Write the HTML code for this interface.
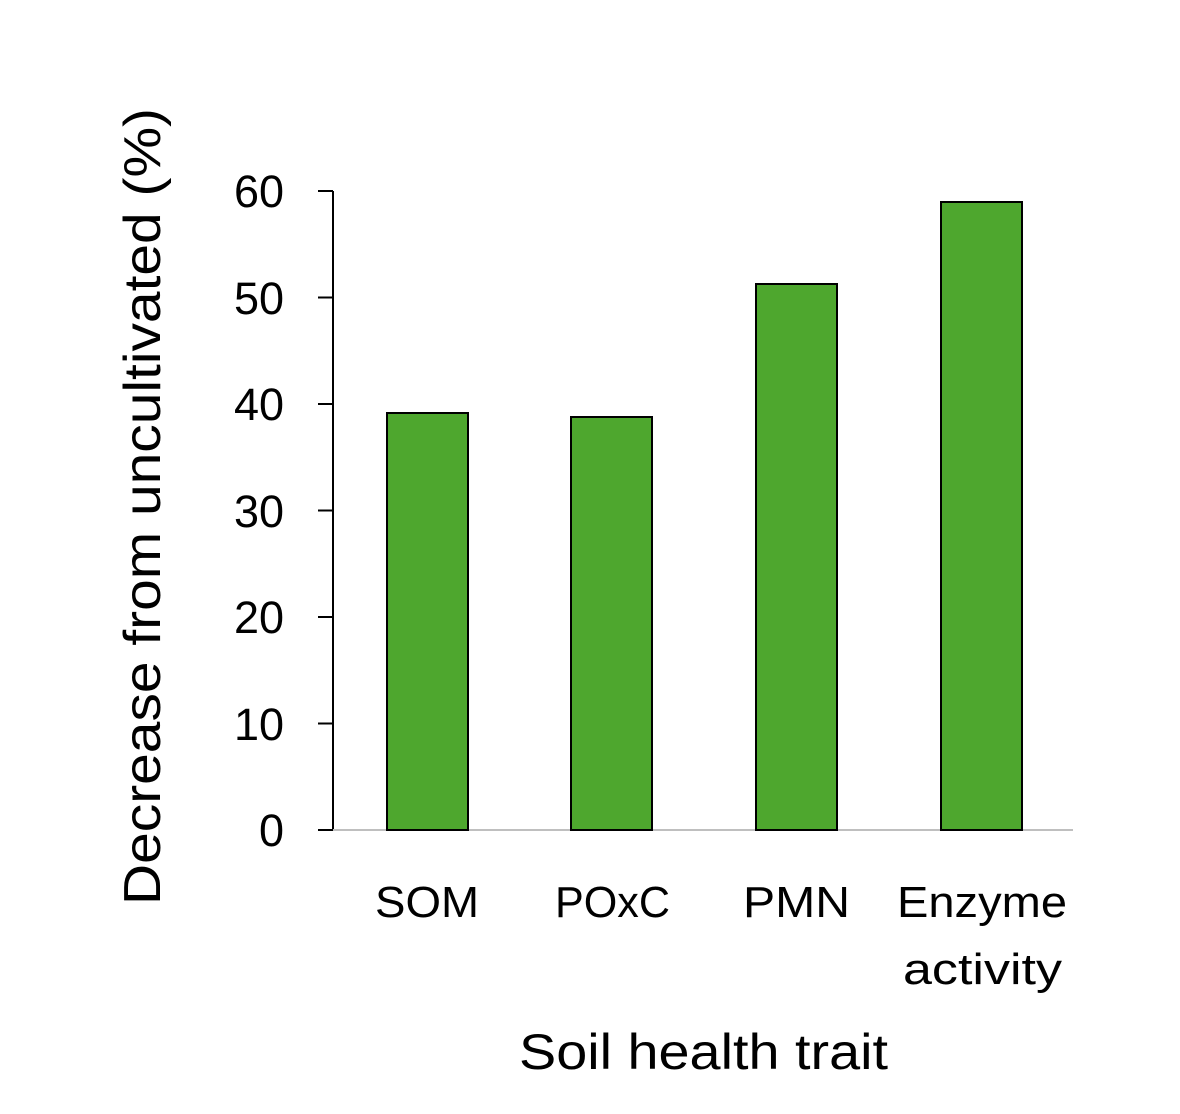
<!DOCTYPE html>
<html><head><meta charset="utf-8"><style>
html,body{margin:0;padding:0;background:#fff;}
svg{display:block;}
text{font-family:"Liberation Sans",Arial,sans-serif;fill:#000;}
</style></head><body>
<svg width="1180" height="1114" viewBox="0 0 1180 1114" xmlns="http://www.w3.org/2000/svg">
<rect width="1180" height="1114" fill="#fff"/>
<g stroke="#000" stroke-width="2">
<line x1="333" y1="191" x2="333" y2="830"/>
<line x1="318" y1="191" x2="333" y2="191"/>
<line x1="318" y1="297.5" x2="333" y2="297.5"/>
<line x1="318" y1="404" x2="333" y2="404"/>
<line x1="318" y1="510.5" x2="333" y2="510.5"/>
<line x1="318" y1="617" x2="333" y2="617"/>
<line x1="318" y1="723.5" x2="333" y2="723.5"/>
<line x1="318" y1="830" x2="333" y2="830"/>
</g>
<line x1="333" y1="830" x2="1073" y2="830" stroke="#bfbfbf" stroke-width="2"/>
<g fill="#4ea72e" stroke="#000" stroke-width="2">
<rect x="387" y="413" width="81" height="417"/>
<rect x="571" y="417" width="81" height="413"/>
<rect x="756" y="284" width="81" height="546"/>
<rect x="941" y="202" width="81" height="628"/>
</g>
<g font-size="45" text-anchor="end">
<text x="284" y="207">60</text>
<text x="284" y="314">50</text>
<text x="284" y="420">40</text>
<text x="284" y="527">30</text>
<text x="284" y="633">20</text>
<text x="284" y="740">10</text>
<text x="284" y="846">0</text>
</g>
<g font-size="44">
<text x="375" y="917" textLength="104" lengthAdjust="spacingAndGlyphs">SOM</text>
<text x="555" y="917" textLength="115" lengthAdjust="spacingAndGlyphs">POxC</text>
<text x="743" y="917" textLength="107" lengthAdjust="spacingAndGlyphs">PMN</text>
<text x="897" y="917" textLength="170" lengthAdjust="spacingAndGlyphs">Enzyme</text>
<text x="903" y="984" textLength="159" lengthAdjust="spacingAndGlyphs">activity</text>
</g>
<text x="519" y="1069" font-size="50" textLength="369" lengthAdjust="spacingAndGlyphs">Soil health trait</text>
<text transform="translate(160,905) rotate(-90)" font-size="52" textLength="797" lengthAdjust="spacingAndGlyphs">Decrease from uncultivated (%)</text>
</svg>
</body></html>
